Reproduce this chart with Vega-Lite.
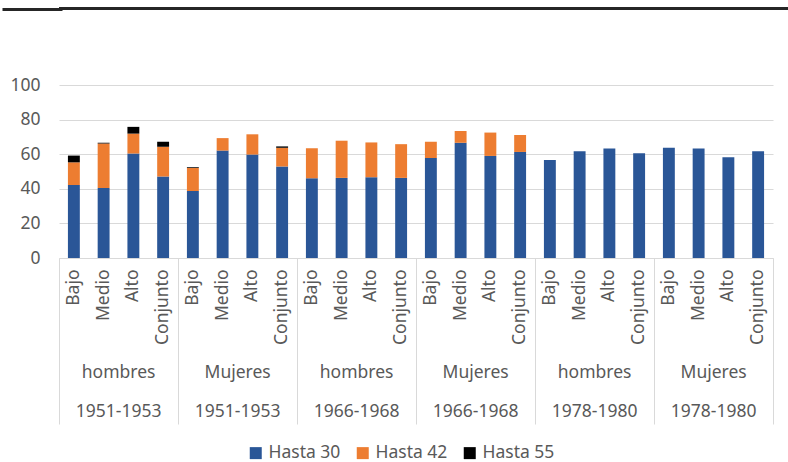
{
  "$schema": "https://vega.github.io/schema/vega-lite/v6.json",
  "padding": {"left": 0, "top": 7, "right": 0, "bottom": 0},
  "background": "white",
  "spacing": 65,
  "config": {
    "font": "Noto Sans",
    "view": {"stroke": null},
    "axis": {"labelFont": "Noto Sans", "labelFontSize": 17.5, "labelColor": "#595959", "title": null},
    "axisY": {"values": [0, 20, 40, 60, 80, 100], "grid": true, "gridColor": "#d9d9d9", "gridWidth": 1,
      "domain": false, "ticks": false, "tickSize": 0, "labelPadding": 19, "labelOverlap": false, "labelFlush": false},
    "legend": {"labelFont": "Noto Sans", "labelFontSize": 17.5, "labelColor": "#595959"}
  },
  "datasets": {
    "bars": [
      {"id": "1951-1953|hombres|Bajo", "serie": "Hasta 30", "valor": 42.2},
      {"id": "1951-1953|hombres|Bajo", "serie": "Hasta 42", "valor": 13.1},
      {"id": "1951-1953|hombres|Bajo", "serie": "Hasta 55", "valor": 3.9},
      {"id": "1951-1953|hombres|Medio", "serie": "Hasta 30", "valor": 40.4},
      {"id": "1951-1953|hombres|Medio", "serie": "Hasta 42", "valor": 25.8},
      {"id": "1951-1953|hombres|Medio", "serie": "Hasta 55", "valor": 0.4},
      {"id": "1951-1953|hombres|Alto", "serie": "Hasta 30", "valor": 60.4},
      {"id": "1951-1953|hombres|Alto", "serie": "Hasta 42", "valor": 11.5},
      {"id": "1951-1953|hombres|Alto", "serie": "Hasta 55", "valor": 3.9},
      {"id": "1951-1953|hombres|Conjunto", "serie": "Hasta 30", "valor": 47.1},
      {"id": "1951-1953|hombres|Conjunto", "serie": "Hasta 42", "valor": 17.2},
      {"id": "1951-1953|hombres|Conjunto", "serie": "Hasta 55", "valor": 2.9},
      {"id": "1951-1953|Mujeres|Bajo", "serie": "Hasta 30", "valor": 38.7},
      {"id": "1951-1953|Mujeres|Bajo", "serie": "Hasta 42", "valor": 13.3},
      {"id": "1951-1953|Mujeres|Bajo", "serie": "Hasta 55", "valor": 0.4},
      {"id": "1951-1953|Mujeres|Medio", "serie": "Hasta 30", "valor": 62.1},
      {"id": "1951-1953|Mujeres|Medio", "serie": "Hasta 42", "valor": 7.2},
      {"id": "1951-1953|Mujeres|Alto", "serie": "Hasta 30", "valor": 59.8},
      {"id": "1951-1953|Mujeres|Alto", "serie": "Hasta 42", "valor": 11.7},
      {"id": "1951-1953|Mujeres|Conjunto", "serie": "Hasta 30", "valor": 52.9},
      {"id": "1951-1953|Mujeres|Conjunto", "serie": "Hasta 42", "valor": 10.8},
      {"id": "1951-1953|Mujeres|Conjunto", "serie": "Hasta 55", "valor": 0.8},
      {"id": "1966-1968|hombres|Bajo", "serie": "Hasta 30", "valor": 46.1},
      {"id": "1966-1968|hombres|Bajo", "serie": "Hasta 42", "valor": 17.4},
      {"id": "1966-1968|hombres|Medio", "serie": "Hasta 30", "valor": 46.3},
      {"id": "1966-1968|hombres|Medio", "serie": "Hasta 42", "valor": 21.5},
      {"id": "1966-1968|hombres|Alto", "serie": "Hasta 30", "valor": 46.7},
      {"id": "1966-1968|hombres|Alto", "serie": "Hasta 42", "valor": 20.1},
      {"id": "1966-1968|hombres|Conjunto", "serie": "Hasta 30", "valor": 46.3},
      {"id": "1966-1968|hombres|Conjunto", "serie": "Hasta 42", "valor": 19.5},
      {"id": "1966-1968|Mujeres|Bajo", "serie": "Hasta 30", "valor": 57.8},
      {"id": "1966-1968|Mujeres|Bajo", "serie": "Hasta 42", "valor": 9.4},
      {"id": "1966-1968|Mujeres|Medio", "serie": "Hasta 30", "valor": 66.6},
      {"id": "1966-1968|Mujeres|Medio", "serie": "Hasta 42", "valor": 6.8},
      {"id": "1966-1968|Mujeres|Alto", "serie": "Hasta 30", "valor": 59.0},
      {"id": "1966-1968|Mujeres|Alto", "serie": "Hasta 42", "valor": 13.5},
      {"id": "1966-1968|Mujeres|Conjunto", "serie": "Hasta 30", "valor": 61.3},
      {"id": "1966-1968|Mujeres|Conjunto", "serie": "Hasta 42", "valor": 9.8},
      {"id": "1978-1980|hombres|Bajo", "serie": "Hasta 30", "valor": 56.6},
      {"id": "1978-1980|hombres|Medio", "serie": "Hasta 30", "valor": 61.7},
      {"id": "1978-1980|hombres|Alto", "serie": "Hasta 30", "valor": 63.3},
      {"id": "1978-1980|hombres|Conjunto", "serie": "Hasta 30", "valor": 60.5},
      {"id": "1978-1980|Mujeres|Bajo", "serie": "Hasta 30", "valor": 63.7},
      {"id": "1978-1980|Mujeres|Medio", "serie": "Hasta 30", "valor": 63.3},
      {"id": "1978-1980|Mujeres|Alto", "serie": "Hasta 30", "valor": 58.2},
      {"id": "1978-1980|Mujeres|Conjunto", "serie": "Hasta 30", "valor": 61.7}
    ],
    "cats": [
      {"id": "1951-1953|hombres|Bajo"}, {"id": "1951-1953|hombres|Medio"}, {"id": "1951-1953|hombres|Alto"}, {"id": "1951-1953|hombres|Conjunto"},
      {"id": "1951-1953|Mujeres|Bajo"}, {"id": "1951-1953|Mujeres|Medio"}, {"id": "1951-1953|Mujeres|Alto"}, {"id": "1951-1953|Mujeres|Conjunto"},
      {"id": "1966-1968|hombres|Bajo"}, {"id": "1966-1968|hombres|Medio"}, {"id": "1966-1968|hombres|Alto"}, {"id": "1966-1968|hombres|Conjunto"},
      {"id": "1966-1968|Mujeres|Bajo"}, {"id": "1966-1968|Mujeres|Medio"}, {"id": "1966-1968|Mujeres|Alto"}, {"id": "1966-1968|Mujeres|Conjunto"},
      {"id": "1978-1980|hombres|Bajo"}, {"id": "1978-1980|hombres|Medio"}, {"id": "1978-1980|hombres|Alto"}, {"id": "1978-1980|hombres|Conjunto"},
      {"id": "1978-1980|Mujeres|Bajo"}, {"id": "1978-1980|Mujeres|Medio"}, {"id": "1978-1980|Mujeres|Alto"}, {"id": "1978-1980|Mujeres|Conjunto"}
    ]
  },
  "vconcat": [
    {
      "width": 731,
      "height": 3,
      "data": {"values": [{"a": 0, "b": 1}]},
      "mark": {"type": "rect", "color": "#262626"},
      "encoding": {
        "x": {"field": "a", "type": "quantitative", "scale": {"domain": [0, 1], "padding": 0, "nice": false, "zero": false}, "axis": null},
        "x2": {"field": "b"},
        "y": {"field": "a", "type": "quantitative", "scale": {"domain": [0, 1], "padding": 0, "nice": false, "zero": false},
          "axis": {"values": [0.5], "labels": false, "domain": false, "grid": false, "ticks": true, "offset": -3,
            "tickSize": 60, "tickWidth": 3, "tickColor": "#262626", "title": null}},
        "y2": {"field": "b"}
      }
    },
    {
      "width": 714,
      "height": 173,
      "resolve": {"axis": {"x": "independent"}},
      "layer": [
        {
          "data": {"name": "bars"},
          "mark": {"type": "bar", "width": {"band": 0.4}},
          "encoding": {
            "x": {
              "field": "id", "type": "nominal",
              "scale": {"type": "band", "paddingInner": 0, "paddingOuter": 0,
                "domain": ["1951-1953|hombres|Bajo", "1951-1953|hombres|Medio", "1951-1953|hombres|Alto", "1951-1953|hombres|Conjunto",
                  "1951-1953|Mujeres|Bajo", "1951-1953|Mujeres|Medio", "1951-1953|Mujeres|Alto", "1951-1953|Mujeres|Conjunto",
                  "1966-1968|hombres|Bajo", "1966-1968|hombres|Medio", "1966-1968|hombres|Alto", "1966-1968|hombres|Conjunto",
                  "1966-1968|Mujeres|Bajo", "1966-1968|Mujeres|Medio", "1966-1968|Mujeres|Alto", "1966-1968|Mujeres|Conjunto",
                  "1978-1980|hombres|Bajo", "1978-1980|hombres|Medio", "1978-1980|hombres|Alto", "1978-1980|hombres|Conjunto",
                  "1978-1980|Mujeres|Bajo", "1978-1980|Mujeres|Medio", "1978-1980|Mujeres|Alto", "1978-1980|Mujeres|Conjunto"]},
              "axis": {
                "orient": "bottom", "title": null, "ticks": false, "tickSize": 0,
                "domain": true, "domainColor": "#d9d9d9", "domainWidth": 1,
                "labelAngle": -90, "labelAlign": "right", "labelBaseline": "middle",
                "labelPadding": 11, "labelOverlap": false, "labelBound": false, "labelFlush": false,
                "labelExpr": "split(datum.value, '|')[2]"
              }
            },
            "y": {
              "field": "valor", "type": "quantitative", "stack": "zero",
              "scale": {"domain": [0, 100], "nice": false},
              "axis": {"title": null}
            },
            "color": {
              "field": "serie", "type": "nominal",
              "scale": {"domain": ["Hasta 30", "Hasta 42", "Hasta 55"], "range": ["#2A5697", "#ED7D31", "#000000"]},
              "legend": {
                "title": null, "orient": "none", "direction": "horizontal", "legendX": 188, "legendY": 437,
                "symbolType": "square", "symbolSize": 144, "symbolStrokeWidth": 0, "labelOffset": 4, "columnPadding": 13
              }
            },
            "order": {"field": "serie", "sort": "ascending"}
          }
        },
        {
          "data": {"name": "cats"},
          "mark": {"type": "tick", "opacity": 0},
          "encoding": {
            "x": {
              "field": "id", "type": "nominal",
              "axis": {
                "orient": "bottom", "title": null, "ticks": false, "tickSize": 0, "domain": false, "grid": false,
                "values": ["1951-1953|hombres|Medio", "1951-1953|Mujeres|Medio", "1966-1968|hombres|Medio", "1966-1968|Mujeres|Medio", "1978-1980|hombres|Medio", "1978-1980|Mujeres|Medio"],
                "labelOffset": 15, "labelAngle": 0, "labelAlign": "center", "labelBaseline": "middle",
                "labelPadding": 114, "labelOverlap": false, "labelBound": false, "labelFlush": false,
                "labelExpr": "split(datum.value, '|')[1]"
              }
            },
            "y": {"datum": 0, "type": "quantitative", "axis": {"title": null}}
          }
        },
        {
          "data": {"name": "cats"},
          "mark": {"type": "tick", "opacity": 0},
          "encoding": {
            "x": {
              "field": "id", "type": "nominal",
              "axis": {
                "orient": "bottom", "title": null, "ticks": false, "tickSize": 0, "domain": false, "grid": false,
                "values": ["1951-1953|hombres|Medio", "1951-1953|Mujeres|Medio", "1966-1968|hombres|Medio", "1966-1968|Mujeres|Medio", "1978-1980|hombres|Medio", "1978-1980|Mujeres|Medio"],
                "labelOffset": 15, "labelAngle": 0, "labelAlign": "center", "labelBaseline": "middle",
                "labelPadding": 153, "labelOverlap": false, "labelBound": false, "labelFlush": false,
                "labelExpr": "split(datum.value, '|')[0]"
              }
            },
            "y": {"datum": 0, "type": "quantitative", "axis": {"title": null}}
          }
        },
        {
          "data": {"name": "cats"},
          "mark": {"type": "tick", "opacity": 0},
          "encoding": {
            "x": {
              "field": "id", "type": "nominal",
              "axis": {
                "orient": "bottom", "title": null, "labels": false, "domain": false, "grid": false,
                "ticks": true, "tickSize": 166, "tickColor": "#d9d9d9", "tickWidth": 1,
                "values": ["1951-1953|hombres|Bajo", "1951-1953|Mujeres|Bajo", "1966-1968|hombres|Bajo", "1966-1968|Mujeres|Bajo", "1978-1980|hombres|Bajo", "1978-1980|Mujeres|Bajo"],
                "bandPosition": 0
              }
            },
            "y": {"datum": 0, "type": "quantitative", "axis": {"title": null}}
          }
        },
        {
          "data": {"name": "cats"},
          "mark": {"type": "tick", "opacity": 0},
          "encoding": {
            "x": {
              "field": "id", "type": "nominal",
              "axis": {
                "orient": "bottom", "title": null, "labels": false, "domain": false, "grid": false,
                "ticks": true, "tickSize": 166, "tickColor": "#d9d9d9", "tickWidth": 1,
                "values": ["1978-1980|Mujeres|Conjunto"],
                "bandPosition": 1
              }
            },
            "y": {"datum": 0, "type": "quantitative", "axis": {"title": null}}
          }
        }
      ]
    }
  ]
}
